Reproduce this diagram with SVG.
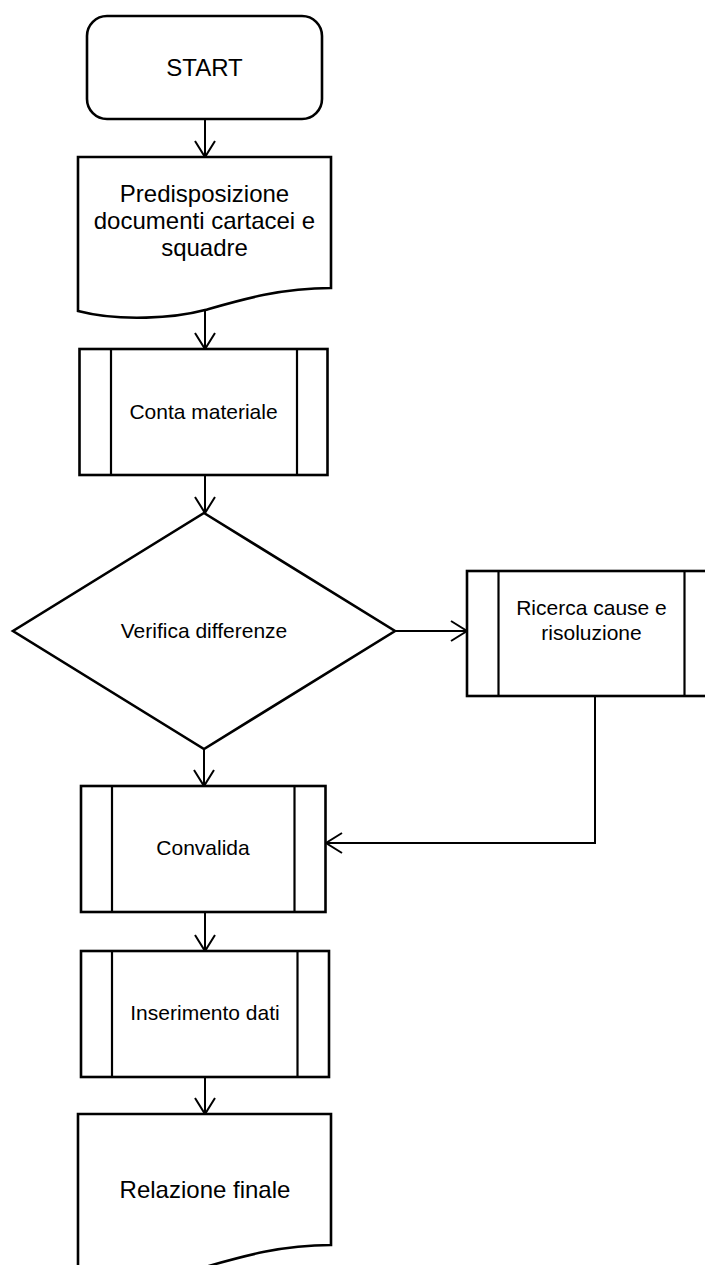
<svg xmlns="http://www.w3.org/2000/svg" width="705" height="1265" viewBox="0 0 705 1265">
<style>
.shape{fill:#fff;stroke:#000;stroke-width:2.6;stroke-linejoin:miter}
.inner{stroke:#000;stroke-width:2.2;fill:none}
.conn{fill:none;stroke:#000;stroke-width:2}
text{font-family:"Liberation Sans",Arial,sans-serif;fill:#000;text-anchor:middle}
.big{font-size:24px}
.med{font-size:21px}
</style>
<defs>
<marker id="arr" markerWidth="20" markerHeight="24" refX="17" refY="11" orient="auto" markerUnits="userSpaceOnUse" style="overflow:visible">
<path d="M1,1 L17,11 L1,21" fill="none" stroke="#000" stroke-width="2"/>
</marker>
</defs>
<rect width="705" height="1265" fill="#fff"/>
<g id="connectors">
<line class="conn" x1="205" y1="119" x2="205" y2="157" marker-end="url(#arr)"/>
<line class="conn" x1="205" y1="310" x2="205" y2="349" marker-end="url(#arr)"/>
<line class="conn" x1="205" y1="475" x2="205" y2="513" marker-end="url(#arr)"/>
<line class="conn" x1="395" y1="631" x2="467" y2="631" marker-end="url(#arr)"/>
<line class="conn" x1="204" y1="749" x2="204" y2="786" marker-end="url(#arr)"/>
<polyline class="conn" points="595,696 595,843 326,843" marker-end="url(#arr)"/>
<line class="conn" x1="205" y1="912" x2="205" y2="951" marker-end="url(#arr)"/>
<line class="conn" x1="205" y1="1077" x2="205" y2="1114" marker-end="url(#arr)"/>
</g>
<g id="start">
<rect class="shape" x="87" y="16" width="235" height="103" rx="20" ry="20"/>
<text class="big" x="204.5" y="76">START</text>
</g>
<g id="predisposizione">
<path class="shape" d="M78,157 L331,157 L331,288 C280,288 240,300 205,310 C175,318 120,322 78,311 Z"/>
<text class="big" x="204.5" y="202">Predisposizione</text>
<text class="big" x="204.5" y="229">documenti cartacei e</text>
<text class="big" x="204.5" y="256">squadre</text>
</g>
<g id="conta">
<rect class="shape" x="79.5" y="349" width="248" height="126"/>
<line class="inner" x1="111" y1="349" x2="111" y2="475"/>
<line class="inner" x1="297" y1="349" x2="297" y2="475"/>
<text class="med" x="203.5" y="419">Conta materiale</text>
</g>
<g id="verifica">
<polygon class="shape" points="204,513 395,631 204,749 13,631"/>
<text class="med" x="204" y="638">Verifica differenze</text>
</g>
<g id="ricerca">
<rect class="shape" x="467" y="571" width="249" height="125"/>
<line class="inner" x1="498.5" y1="571" x2="498.5" y2="696"/>
<line class="inner" x1="684.5" y1="571" x2="684.5" y2="696"/>
<text class="med" x="591.5" y="615">Ricerca cause e</text>
<text class="med" x="591.5" y="640">risoluzione</text>
</g>
<g id="convalida">
<rect class="shape" x="81" y="786" width="244.5" height="126"/>
<line class="inner" x1="112" y1="786" x2="112" y2="912"/>
<line class="inner" x1="294.5" y1="786" x2="294.5" y2="912"/>
<text class="med" x="203" y="855">Convalida</text>
</g>
<g id="inserimento">
<rect class="shape" x="81" y="951" width="248" height="126"/>
<line class="inner" x1="112" y1="951" x2="112" y2="1077"/>
<line class="inner" x1="297.5" y1="951" x2="297.5" y2="1077"/>
<text class="med" x="205" y="1020">Inserimento dati</text>
</g>
<g id="relazione">
<path class="shape" d="M78,1114 L331,1114 L331,1245 C280,1245 240,1257 205,1267 C175,1275 120,1279 78,1268 Z"/>
<text class="big" x="205" y="1198">Relazione finale</text>
</g>
</svg>
